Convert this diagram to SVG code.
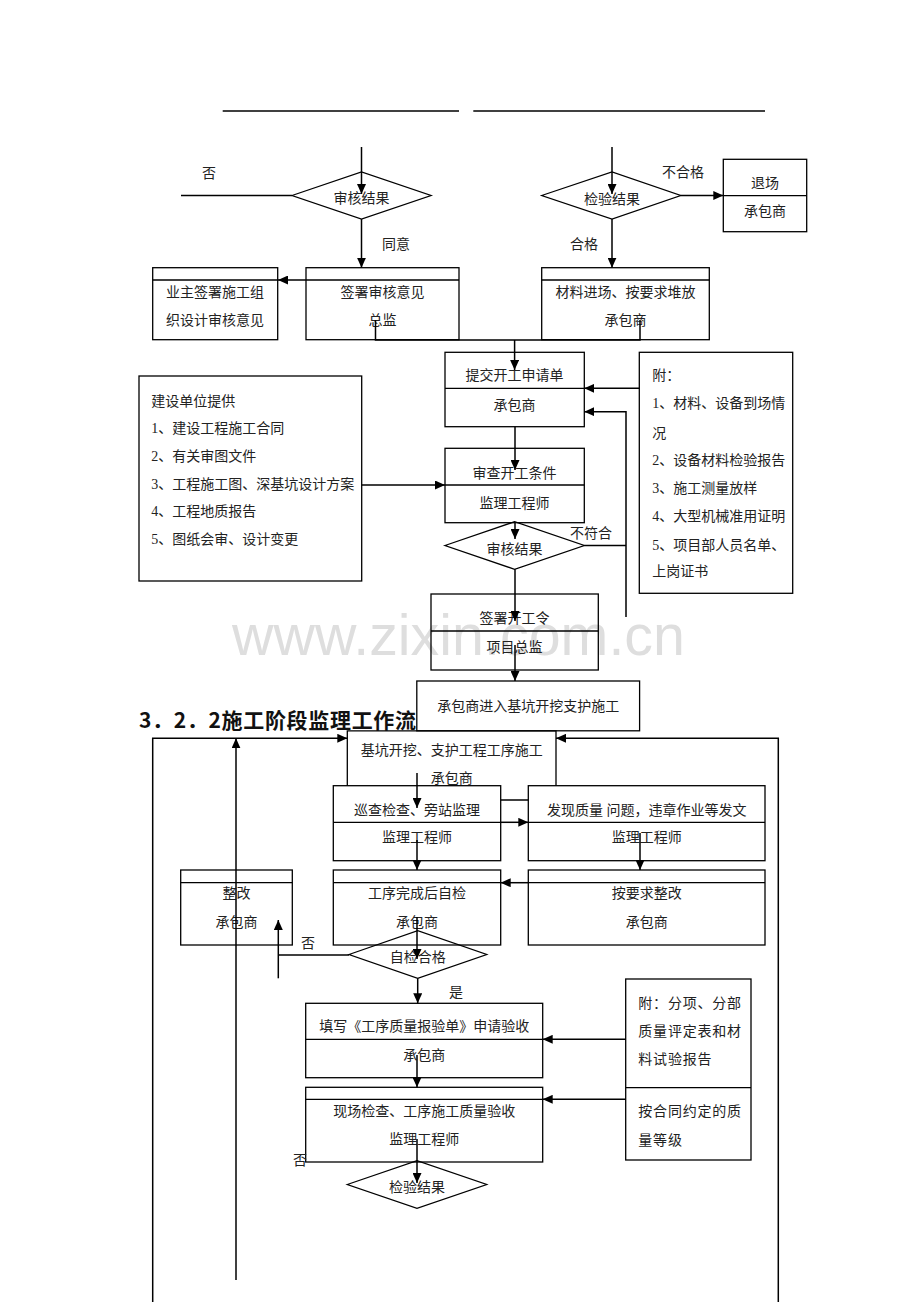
<svg xmlns="http://www.w3.org/2000/svg" width="920" height="1302" viewBox="0 0 920 1302">
<defs>
<marker id="ah" markerUnits="userSpaceOnUse" markerWidth="11" markerHeight="9" refX="10" refY="4.5" orient="auto">
<path d="M0,0 L10,4.5 L0,9 z" fill="#000"/>
</marker>
<style>
.b{fill:none;stroke:#000;stroke-width:1.3}
.d{fill:none;stroke:#000;stroke-width:1.3}
.c{fill:none;stroke:#000;stroke-width:1.5}
.a{marker-end:url(#ah)}
.t{font-family:"Liberation Serif","Noto Sans CJK SC",serif;font-size:14px;fill:#222;text-anchor:middle;dominant-baseline:central}
.l{font-family:"Liberation Serif","Noto Sans CJK SC",serif;font-size:14px;fill:#222;dominant-baseline:central}
.sp{letter-spacing:0.8px}
</style>
</defs>
<rect width="920" height="1302" fill="#fff"/>
<text x="232" y="655" font-family="Liberation Sans, Arial, sans-serif" font-size="57" fill="#dedede" textLength="453" lengthAdjust="spacingAndGlyphs">www.zixin.com.cn</text>
<g id="header">
<line x1="222.7" y1="111" x2="459" y2="111" stroke="#000" stroke-width="1.3"/>
<line x1="473.3" y1="111" x2="765" y2="111" stroke="#000" stroke-width="1.3"/>
</g>
<g id="n1"><polygon class="b" points="292,195.5 361.5,172 431,195.5 361.5,219"/><text class="t" x="361.5" y="198">审核结果</text></g>
<g id="n2"><polygon class="b" points="541.7,195.5 612,172 680.7,195.5 612,219"/><text class="t" x="612" y="199">检验结果</text></g>
<g id="n3"><rect class="b" x="723.3" y="159.3" width="83.4" height="72.4"/><line class="d" x1="723.3" y1="195.7" x2="806.7" y2="195.7"/><text class="t" x="765" y="183">退场</text><text class="t" x="765" y="211">承包商</text></g>
<g id="n4"><rect class="b" x="152.7" y="267.7" width="125" height="72"/><line class="d" x1="152.7" y1="280" x2="277.7" y2="280"/><text class="t" x="215" y="292">业主签署施工组</text><text class="t" x="215" y="320">织设计审核意见</text></g>
<g id="n5"><rect class="b" x="306" y="267.7" width="153" height="72"/><line class="d" x1="306" y1="280" x2="459" y2="280"/><text class="t" x="382.5" y="292">签署审核意见</text><text class="t" x="382.5" y="320">总监</text></g>
<g id="n6"><rect class="b" x="541.7" y="267.7" width="167.6" height="72"/><line class="d" x1="541.7" y1="280" x2="709.3" y2="280"/><text class="t" x="625.5" y="292">材料进场、按要求堆放</text><text class="t" x="625.5" y="320">承包商</text></g>
<g id="n7"><rect class="b" x="445" y="352.3" width="139.3" height="74.4"/><line class="d" x1="445" y1="388.3" x2="584.3" y2="388.3"/><text class="t" x="514.6" y="375">提交开工申请单</text><text class="t" x="514.6" y="405">承包商</text></g>
<g id="n8"><rect class="b" x="139" y="376" width="222.7" height="205"/>
<text class="l" x="151.3" y="401">建设单位提供</text>
<text class="l" x="151.3" y="428.3">1、建设工程施工合同</text>
<text class="l" x="151.3" y="456">2、有关审图文件</text>
<text class="l" x="151.3" y="484">3、工程施工图、深基坑设计方案</text>
<text class="l" x="151.3" y="511.7">4、工程地质报告</text>
<text class="l" x="151.3" y="539.3">5、图纸会审、设计变更</text></g>
<g id="n9"><rect class="b" x="639.3" y="352.3" width="153.4" height="241"/>
<text class="l" x="652.3" y="375">附：</text>
<text class="l" x="652.3" y="403.3">1、材料、设备到场情</text>
<text class="l" x="652.3" y="433.3">况</text>
<text class="l" x="652.3" y="460.7">2、设备材料检验报告</text>
<text class="l" x="652.3" y="488.3">3、施工测量放样</text>
<text class="l" x="652.3" y="516.7">4、大型机械准用证明</text>
<text class="l" x="652.3" y="545">5、项目部人员名单、</text>
<text class="l" x="652.3" y="571.7">上岗证书</text></g>
<g id="n10"><rect class="b" x="445" y="448.3" width="139.3" height="74.4"/><line class="d" x1="445" y1="485" x2="584.3" y2="485"/><text class="t" x="514.6" y="473">审查开工条件</text><text class="t" x="514.6" y="503">监理工程师</text></g>
<g id="n11"><polygon class="b" points="445,545.5 514.6,521.7 584.3,545.5 514.6,569.3"/><text class="t" x="514.6" y="549">审核结果</text></g>
<g id="n12"><rect class="b" x="431" y="594" width="167.3" height="76"/><line class="d" x1="431" y1="631" x2="598.3" y2="631"/><text class="t" x="514.6" y="618.6">签署开工令</text><text class="t" x="514.6" y="647.8">项目总监</text></g>
<g id="title"><text x="139" y="719" font-family="Noto Sans CJK SC, sans-serif" font-size="21" font-weight="bold" fill="#111" dominant-baseline="central" textLength="277" lengthAdjust="spacing">3．2．2施工阶段监理工作流</text></g>
<g id="n13"><rect class="b" x="416.8" y="681" width="222.8" height="49.8" fill="#fff" style="fill:#fff"/><text class="t" x="528.2" y="706.7">承包商进入基坑开挖支护施工</text></g>
<g id="n14"><path class="b" d="M347.3,785.7 V730.8 H556 V785.7"/><text class="t" x="451.7" y="750">基坑开挖、支护工程工序施工</text><text class="t" x="451.7" y="778.3">承包商</text></g>
<g id="n15"><rect class="b" x="333.3" y="785.7" width="167.4" height="75"/><line class="d" x1="333.3" y1="822.3" x2="500.7" y2="822.3"/><text class="t" x="417" y="810">巡查检查、旁站监理</text><text class="t" x="417" y="837.3">监理工程师</text></g>
<g id="n16"><rect class="b" x="528.3" y="785.7" width="236.7" height="75"/><line class="d" x1="528.3" y1="822.3" x2="765" y2="822.3"/><text class="t" x="646.7" y="810">发现质量 问题，违章作业等发文</text><text class="t" x="646.7" y="837.3">监理工程师</text></g>
<g id="n17"><rect class="b" x="333.3" y="870" width="167.4" height="75"/><line class="d" x1="333.3" y1="882.7" x2="500.7" y2="882.7"/><text class="t" x="417" y="893.3">工序完成后自检</text><text class="t" x="417" y="922.3">承包商</text></g>
<g id="n18"><rect class="b" x="528.3" y="870" width="236.7" height="75"/><line class="d" x1="528.3" y1="882.7" x2="765" y2="882.7"/><text class="t" x="646.7" y="893.3">按要求整改</text><text class="t" x="646.7" y="922.3">承包商</text></g>
<g id="n19"><rect class="b" x="180.7" y="870" width="111.6" height="75"/><line class="d" x1="180.7" y1="882.7" x2="292.3" y2="882.7"/><text class="t" x="236.5" y="893.3">整改</text><text class="t" x="236.5" y="922.3">承包商</text></g>
<g id="n20"><polygon class="b" points="349,954.5 417.7,930.7 486.7,954.5 417.7,978.3"/><text class="t" x="417.7" y="957">自检合格</text></g>
<g id="n21"><rect class="b" x="305.7" y="1003.3" width="237" height="74.4"/><line class="d" x1="305.7" y1="1039.3" x2="542.7" y2="1039.3"/><text class="t" x="424.2" y="1026.7">填写《工序质量报验单》申请验收</text><text class="t" x="424.2" y="1055">承包商</text></g>
<g id="n22"><rect class="b" x="305.7" y="1087.3" width="237" height="74.7"/><line class="d" x1="305.7" y1="1099.3" x2="542.7" y2="1099.3"/><text class="t" x="424.2" y="1111.3">现场检查、工序施工质量验收</text><text class="t" x="424.2" y="1139.3">监理工程师</text></g>
<g id="n23"><rect class="b" x="625.7" y="979" width="125.3" height="181"/><line class="d" x1="625.7" y1="1087.7" x2="751" y2="1087.7"/>
<text class="l sp" x="638.3" y="1003.3">附：分项、分部</text>
<text class="l sp" x="638.3" y="1031.7">质量评定表和材</text>
<text class="l sp" x="638.3" y="1059.3">料试验报告</text>
<text class="l sp" x="638.3" y="1111.7">按合同约定的质</text>
<text class="l sp" x="638.3" y="1140">量等级</text></g>
<g id="n24"><polygon class="b" points="347.3,1184.5 417,1160.7 486.7,1184.5 417,1208.3"/><text class="t" x="417" y="1187">检验结果</text></g>
<g id="connectors">
<line class="c a" x1="361.5" y1="147" x2="361.5" y2="194"/>
<line class="c" x1="292" y1="195.5" x2="181" y2="195.5"/>
<line class="c a" x1="361.5" y1="219" x2="361.5" y2="267.7"/>
<line class="c a" x1="306" y1="280" x2="278" y2="280"/>
<line class="c a" x1="612" y1="147" x2="612" y2="194"/>
<line class="c a" x1="680.7" y1="195.5" x2="723.3" y2="195.5"/>
<line class="c a" x1="612" y1="219" x2="612" y2="267.7"/>
<path class="c" d="M375.5,320 V340 H640 V320"/>
<line class="c a" x1="514.6" y1="340" x2="514.6" y2="370"/>
<line class="c a" x1="639.3" y1="388.3" x2="584.3" y2="388.3"/>
<path class="c a" d="M626,617 V411.7 H584.3"/>
<line class="c" x1="584.3" y1="545.5" x2="626" y2="545.5"/>
<line class="c a" x1="361.7" y1="485" x2="445" y2="485"/>
<line class="c a" x1="515" y1="426.7" x2="515" y2="470"/>
<line class="c a" x1="515" y1="522.7" x2="515" y2="539"/>
<line class="c a" x1="515" y1="569.3" x2="515" y2="621"/>
<line class="c a" x1="515" y1="645" x2="515" y2="681"/>
<path class="c a" d="M152.7,1302 V738.3 H347.3"/>
<line class="c a" x1="236" y1="1280" x2="236" y2="738.3"/>
<path class="c a" d="M778.3,1302 V738.3 H556"/>
<line class="c a" x1="417" y1="773" x2="417" y2="808"/>
<line class="c" x1="500.7" y1="800" x2="528.3" y2="800"/>
<line class="c a" x1="500.7" y1="822.3" x2="528.3" y2="822.3"/>
<line class="c a" x1="640" y1="833" x2="640" y2="870"/>
<line class="c a" x1="528.3" y1="882.7" x2="500.7" y2="882.7"/>
<line class="c a" x1="417" y1="840" x2="417" y2="870"/>
<line class="c a" x1="417" y1="917" x2="417" y2="959"/>
<line class="c" x1="349" y1="955" x2="278.3" y2="955"/>
<line class="c a" x1="278.3" y1="978.3" x2="278.3" y2="920"/>
<line class="c a" x1="417.7" y1="978.3" x2="417.7" y2="1003.3"/>
<line class="c a" x1="625.7" y1="1039.3" x2="542.7" y2="1039.3"/>
<line class="c a" x1="417" y1="1055" x2="417" y2="1087.3"/>
<line class="c a" x1="625.7" y1="1099.3" x2="542.7" y2="1099.3"/>
<line class="c a" x1="417" y1="1139" x2="417" y2="1183"/>
</g>
<g id="labels">
<text class="t" x="209" y="173">否</text>
<text class="t" x="396" y="244">同意</text>
<text class="t" x="683" y="172">不合格</text>
<text class="t" x="584" y="244">合格</text>
<text class="t" x="591" y="533">不符合</text>
<text class="t" x="308" y="943">否</text>
<text class="t" x="456" y="992">是</text>
<text class="t" x="300" y="1160">否</text>
</g>
</svg>
